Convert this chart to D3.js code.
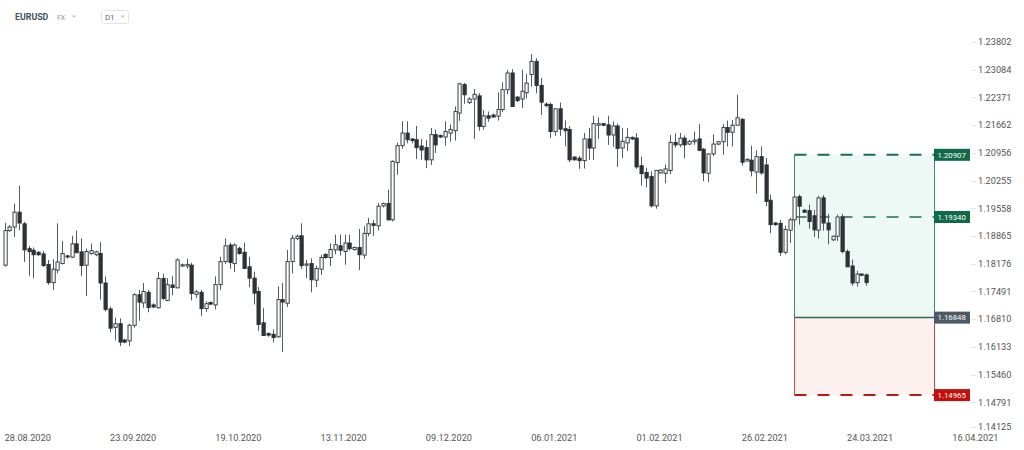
<!DOCTYPE html>
<html><head><meta charset="utf-8">
<script src="https://cdn.jsdelivr.net/npm/d3@7"></script>
<style>body{margin:0;background:#fff}svg{display:block;font-family:Roboto,"Noto Sans",sans-serif}</style>
</head><body><svg id="c" width="1024" height="450"></svg>
<script>
// ---- data (EURUSD, D1, with Sunday sessions) ----
const dates = ("28.08.2020 30.08.2020 31.08.2020 01.09.2020 02.09.2020 03.09.2020 04.09.2020 06.09.2020 07.09.2020 08.09.2020 " +
"09.09.2020 10.09.2020 11.09.2020 13.09.2020 14.09.2020 15.09.2020 16.09.2020 17.09.2020 18.09.2020 20.09.2020 " +
"21.09.2020 22.09.2020 23.09.2020 24.09.2020 25.09.2020 27.09.2020 28.09.2020 29.09.2020 30.09.2020 01.10.2020 " +
"02.10.2020 04.10.2020 05.10.2020 06.10.2020 07.10.2020 08.10.2020 09.10.2020 11.10.2020 12.10.2020 13.10.2020 " +
"14.10.2020 15.10.2020 16.10.2020 18.10.2020 19.10.2020 20.10.2020 21.10.2020 22.10.2020 23.10.2020 25.10.2020 " +
"26.10.2020 27.10.2020 28.10.2020 29.10.2020 30.10.2020 01.11.2020 02.11.2020 03.11.2020 04.11.2020 05.11.2020 " +
"06.11.2020 08.11.2020 09.11.2020 10.11.2020 11.11.2020 12.11.2020 13.11.2020 15.11.2020 16.11.2020 17.11.2020 " +
"18.11.2020 19.11.2020 20.11.2020 22.11.2020 23.11.2020 24.11.2020 25.11.2020 26.11.2020 27.11.2020 29.11.2020 " +
"30.11.2020 01.12.2020 02.12.2020 03.12.2020 04.12.2020 06.12.2020 07.12.2020 08.12.2020 09.12.2020 10.12.2020 " +
"11.12.2020 13.12.2020 14.12.2020 15.12.2020 16.12.2020 17.12.2020 18.12.2020 20.12.2020 21.12.2020 22.12.2020 " +
"23.12.2020 24.12.2020 27.12.2020 28.12.2020 29.12.2020 30.12.2020 31.12.2020 03.01.2021 04.01.2021 05.01.2021 " +
"06.01.2021 07.01.2021 08.01.2021 10.01.2021 11.01.2021 12.01.2021 13.01.2021 14.01.2021 15.01.2021 17.01.2021 " +
"18.01.2021 19.01.2021 20.01.2021 21.01.2021 22.01.2021 24.01.2021 25.01.2021 26.01.2021 27.01.2021 28.01.2021 " +
"29.01.2021 31.01.2021 01.02.2021 02.02.2021 03.02.2021 04.02.2021 05.02.2021 07.02.2021 08.02.2021 09.02.2021 " +
"10.02.2021 11.02.2021 12.02.2021 14.02.2021 15.02.2021 16.02.2021 17.02.2021 18.02.2021 19.02.2021 21.02.2021 " +
"22.02.2021 23.02.2021 24.02.2021 25.02.2021 26.02.2021 28.02.2021 01.03.2021 02.03.2021 03.03.2021 04.03.2021 " +
"05.03.2021 07.03.2021 08.03.2021 09.03.2021 10.03.2021 11.03.2021 12.03.2021 14.03.2021 15.03.2021 16.03.2021 " +
"17.03.2021 18.03.2021 19.03.2021 21.03.2021 22.03.2021 23.03.2021 24.03.2021 25.03.2021 26.03.2021 28.03.2021 " +
"29.03.2021").split(" ");

const open = [1.1814,1.1900,1.1909,1.1946,1.1917,1.1855,1.1851,1.1846,1.1842,1.1816,
1.1771,1.1802,1.1818,1.1837,1.1834,1.1867,1.1847,1.1814,1.1843,1.1840,
1.1843,1.1770,1.1706,1.1661,1.1670,1.1630,1.1628,1.1666,1.1741,1.1721,
1.1747,1.1716,1.1709,1.1781,1.1727,1.1765,1.1758,1.1812,1.1812,1.1814,
1.1742,1.1747,1.1707,1.1722,1.1716,1.1766,1.1823,1.1864,1.1818,1.1856,
1.1846,1.1810,1.1782,1.1749,1.1672,1.1646,1.1644,1.1638,1.1729,1.1720,
1.1823,1.1880,1.1887,1.1814,1.1818,1.1777,1.1804,1.1841,1.1833,1.1852,
1.1862,1.1848,1.1869,1.1853,1.1858,1.1839,1.1893,1.1917,1.1912,1.1962,
1.1968,1.1927,1.2071,1.2114,1.2146,1.2131,1.2129,1.2113,1.2109,1.2078,
1.2142,1.2140,1.2136,1.2146,1.2152,1.2197,1.2270,1.2224,1.2233,1.2241,
1.2163,1.2190,1.2192,1.2189,1.2206,1.2257,1.2300,1.2238,1.2233,1.2249,
1.2296,1.2330,1.2268,1.2220,1.2219,1.2150,1.2208,1.2157,1.2155,1.2085,
1.2082,1.2076,1.2131,1.2108,1.2166,1.2170,1.2167,1.2141,1.2164,1.2108,
1.2121,1.2135,1.2133,1.2063,1.2046,1.2036,1.1962,1.2045,1.2044,1.2051,
1.2122,1.2116,1.2133,1.2118,1.2124,1.2131,1.2105,1.2044,1.2093,1.2118,
1.2124,1.2160,1.2148,1.2166,1.2181,1.2075,1.2077,1.2047,1.2086,1.2065,
1.1976,1.1919,1.1918,1.1846,1.1901,1.1927,1.1985,1.1951,1.1950,1.1937,
1.1901,1.1982,1.1919,1.1877,1.1886,1.1934,1.1848,1.1812,1.1771,1.1792,
1.1790];
const high = [1.1919,1.1914,1.1968,1.2013,1.1922,1.1862,1.1858,1.1849,1.1849,1.1827,
1.1829,1.1918,1.1874,1.1840,1.1887,1.1900,1.1881,1.1855,1.1868,1.1850,
1.1871,1.1786,1.1712,1.1685,1.1683,1.1633,1.1670,1.1745,1.1753,1.1770,
1.1753,1.1720,1.1797,1.1793,1.1782,1.1787,1.1831,1.1818,1.1830,1.1820,
1.1753,1.1753,1.1725,1.1724,1.1786,1.1835,1.1881,1.1870,1.1868,1.1860,
1.1870,1.1835,1.1798,1.1760,1.1708,1.1648,1.1656,1.1762,1.1770,1.1852,
1.1889,1.1890,1.1918,1.1827,1.1831,1.1813,1.1840,1.1843,1.1868,1.1890,
1.1890,1.1890,1.1890,1.1860,1.1904,1.1911,1.1932,1.1926,1.1969,1.1970,
1.2003,1.2077,1.2122,1.2176,1.2176,1.2133,1.2164,1.2131,1.2129,1.2159,
1.2155,1.2142,1.2176,1.2168,1.2214,1.2275,1.2274,1.2238,1.2259,1.2248,
1.2205,1.2201,1.2196,1.2250,1.2276,1.2308,1.2310,1.2240,1.2309,1.2297,
1.2349,1.2338,1.2287,1.2224,1.2224,1.2209,1.2224,1.2178,1.2164,1.2087,
1.2088,1.2146,1.2159,1.2190,1.2186,1.2172,1.2190,1.2176,1.2170,1.2159,
1.2159,1.2137,1.2146,1.2086,1.2058,1.2049,1.2051,1.2054,1.2066,1.2141,
1.2145,1.2146,1.2140,1.2128,1.2150,1.2169,1.2108,1.2094,1.2143,1.2126,
1.2169,1.2178,1.2179,1.2244,1.2184,1.2082,1.2114,1.2102,1.2112,1.2083,
1.1990,1.1921,1.1927,1.1912,1.1932,1.1989,1.1990,1.1954,1.1965,1.1952,
1.1987,1.1989,1.1942,1.1888,1.1940,1.1942,1.1853,1.1828,1.1800,1.1794,
1.1793];
const low = [1.1810,1.1897,1.1884,1.1901,1.1822,1.1788,1.1782,1.1837,1.1810,1.1766,
1.1753,1.1794,1.1816,1.1830,1.1832,1.1844,1.1787,1.1738,1.1840,1.1836,
1.1729,1.1700,1.1649,1.1629,1.1615,1.1622,1.1615,1.1660,1.1677,1.1709,
1.1698,1.1708,1.1707,1.1728,1.1725,1.1740,1.1757,1.1810,1.1805,1.1727,
1.1733,1.1689,1.1699,1.1716,1.1705,1.1753,1.1817,1.1805,1.1797,1.1840,
1.1805,1.1760,1.1717,1.1652,1.1640,1.1638,1.1624,1.1636,1.1601,1.1711,
1.1794,1.1876,1.1805,1.1782,1.1747,1.1760,1.1790,1.1830,1.1812,1.1841,
1.1838,1.1815,1.1851,1.1850,1.1802,1.1830,1.1886,1.1887,1.1900,1.1958,
1.1925,1.1923,1.2040,1.2106,1.2120,1.2120,1.2080,1.2078,1.2057,1.2065,
1.2095,1.2133,1.2114,1.2124,1.2127,1.2177,1.2221,1.2220,1.2131,1.2152,
1.2155,1.2175,1.2185,1.2178,1.2200,1.2245,1.2213,1.2225,1.2210,1.2234,
1.2265,1.2248,1.2192,1.2212,1.2133,1.2139,1.2139,1.2112,1.2072,1.2076,
1.2055,1.2056,1.2078,1.2078,1.2131,1.2163,1.2116,1.2111,1.2060,1.2082,
1.2100,1.2128,1.2055,1.2013,1.2008,1.1958,1.1955,1.2043,1.2019,1.2042,
1.2109,1.2110,1.2082,1.2116,1.2116,1.2100,1.2024,1.2022,1.2087,1.2115,
1.2091,1.2112,1.2112,1.2165,1.2063,1.2073,1.2036,1.1993,1.2040,1.1961,
1.1894,1.1912,1.1837,1.1841,1.1869,1.1910,1.1915,1.1944,1.1905,1.1884,
1.1880,1.1900,1.1866,1.1874,1.1874,1.1843,1.1810,1.1763,1.1761,1.1788,
1.1763];
const close = [1.1900,1.1909,1.1946,1.1919,1.1852,1.1848,1.1840,1.1840,1.1813,1.1771,
1.1804,1.1822,1.1843,1.1835,1.1867,1.1845,1.1813,1.1848,1.1850,1.1847,
1.1770,1.1705,1.1659,1.1670,1.1625,1.1625,1.1666,1.1741,1.1723,1.1749,
1.1710,1.1711,1.1781,1.1732,1.1766,1.1759,1.1827,1.1815,1.1816,1.1744,
1.1748,1.1707,1.1719,1.1718,1.1766,1.1823,1.1862,1.1821,1.1864,1.1843,
1.1806,1.1782,1.1745,1.1668,1.1641,1.1642,1.1636,1.1729,1.1723,1.1823,
1.1881,1.1886,1.1813,1.1817,1.1778,1.1806,1.1833,1.1833,1.1853,1.1865,
1.1851,1.1869,1.1855,1.1858,1.1840,1.1893,1.1917,1.1913,1.1961,1.1968,
1.1927,1.2074,1.2114,1.2146,1.2129,1.2127,1.2109,1.2103,1.2078,1.2142,
1.2116,1.2136,1.2150,1.2155,1.2201,1.2272,1.2244,1.2233,1.2245,1.2163,
1.2190,1.2184,1.2187,1.2206,1.2257,1.2300,1.2214,1.2229,1.2253,1.2274,
1.2330,1.2268,1.2225,1.2216,1.2150,1.2208,1.2156,1.2152,1.2078,1.2078,
1.2076,1.2131,1.2108,1.2170,1.2170,1.2166,1.2141,1.2164,1.2107,1.2125,
1.2135,1.2131,1.2060,1.2043,1.2032,1.1962,1.2051,1.2052,1.2055,1.2122,
1.2116,1.2133,1.2116,1.2125,1.2128,1.2102,1.2045,1.2093,1.2118,1.2124,
1.2160,1.2148,1.2166,1.2185,1.2072,1.2079,1.2050,1.2086,1.2045,1.1973,
1.1915,1.1915,1.1846,1.1903,1.1927,1.1984,1.1961,1.1946,1.1923,1.1902,
1.1982,1.1919,1.1902,1.1886,1.1934,1.1848,1.1810,1.1770,1.1792,1.1789,
1.1771];

const yTicks = [1.23802,1.23084,1.22371,1.21662,1.20956,1.20255,1.19558,1.18865,1.18176,1.17491,1.16810,1.16133,1.15460,1.14791,1.14125];
const xTickLabels = ["28.08.2020","23.09.2020","19.10.2020","13.11.2020","09.12.2020","06.01.2021","01.02.2021","26.02.2021","24.03.2021","16.04.2021"];
const xTickIndex = [0,22,44,66,88,110,132,154,176,198];

// position tool (long): levels and bar span
const levelValues = [1.20907, 1.19340, 1.16848, 1.14965];
const levelColors = ["#0f6b47", "#0f6b47", "#4c5a66", "#c4100c"];
const zoneSpan = [165, 194.2];

// ---- chart ----
const svg = d3.select("#c");
const x = d3.scaleLinear().domain([0, 198]).range([4.7, 4.7 + 198 * 4.786]);
const y = d3.scaleLog().domain([1.23802, 1.14791]).range([42, 402.3]);

const data = dates.map((d, i) => ({d, i, o: open[i], h: high[i], l: low[i], c: close[i]}));

// header
const hdr = svg.append("g");
hdr.append("text").attr("x", 15).attr("y", 19.5).attr("font-size", 8.8).attr("font-weight", 700).attr("fill", "#44505b").text("EURUSD");
hdr.append("text").attr("x", 57).attr("y", 19.5).attr("font-size", 7).attr("fill", "#8795a1").text("FX");
hdr.append("path").attr("d", "M71.5,15.5 L76,15.5 L73.75,18 Z").attr("fill", "#c4c9ce");
hdr.append("rect").attr("x", 101.5).attr("y", 10.5).attr("width", 27).attr("height", 13).attr("rx", 2).attr("fill", "#fff").attr("stroke", "#e3e6e9");
hdr.append("text").attr("x", 105).attr("y", 20).attr("font-size", 7.8).attr("fill", "#5b6670").text("D1");
hdr.append("path").attr("d", "M120.5,15.5 L125,15.5 L122.75,18 Z").attr("fill", "#c4c9ce");

// y axis labels
const yAx = svg.append("g");
yTicks.forEach(v => {
  const yy = Math.min(y(v), 427);
  yAx.append("line").attr("x1", 971).attr("x2", 976).attr("y1", Math.round(yy) + 0.5).attr("y2", Math.round(yy) + 0.5).attr("stroke", "#e4e4e4");
  yAx.append("text").attr("x", 978).attr("y", yy).attr("dy", "0.35em").attr("font-size", 9.2).attr("fill", "#555").text(d3.format(".5f")(v));
});

// x axis labels
const xAx = svg.append("g");
xTickIndex.forEach((idx, k) => {
  xAx.append("text").attr("x", x(idx)).attr("y", 440.5).attr("font-size", 9.2).attr("fill", "#555").text(xTickLabels[k]);
});

// position zone
const zx0 = Math.round(x(zoneSpan[0])) + 0.5, zx1 = Math.round(x(zoneSpan[1])) + 0.5;
const [tp, mid, entry, stop] = levelValues;
const zg = svg.append("g");
zg.append("rect").attr("x", zx0).attr("y", y(tp)).attr("width", zx1 - zx0).attr("height", y(entry) - y(tp)).attr("fill", "#eef8f4");
zg.append("rect").attr("x", zx0).attr("y", y(entry)).attr("width", zx1 - zx0).attr("height", y(stop) - y(entry)).attr("fill", "#fdf1f0");
zg.append("line").attr("x1", zx0).attr("x2", zx0).attr("y1", y(tp)).attr("y2", y(entry)).attr("stroke", "#3e8d69");
zg.append("line").attr("x1", zx1).attr("x2", zx1).attr("y1", y(tp)).attr("y2", y(entry)).attr("stroke", "#3e8d69");
zg.append("line").attr("x1", zx0).attr("x2", zx0).attr("y1", y(entry)).attr("y2", y(stop)).attr("stroke", "#cc4a45");
zg.append("line").attr("x1", zx1).attr("x2", zx1).attr("y1", y(entry)).attr("y2", y(stop)).attr("stroke", "#cc4a45");
zg.append("line").attr("x1", zx0).attr("x2", zx1).attr("y1", y(tp)).attr("y2", y(tp)).attr("stroke", "#17704c").attr("stroke-width", 2).attr("stroke-dasharray", "12,11");
zg.append("line").attr("x1", zx0).attr("x2", zx1).attr("y1", y(mid)).attr("y2", y(mid)).attr("stroke", "#17704c").attr("stroke-width", 1.6).attr("stroke-dasharray", "12,11");
zg.append("line").attr("x1", zx0).attr("x2", zx1).attr("y1", y(entry)).attr("y2", y(entry)).attr("stroke", "#2f6a52").attr("stroke-width", 1.5);
zg.append("line").attr("x1", zx0).attr("x2", zx1).attr("y1", y(stop)).attr("y2", y(stop)).attr("stroke", "#b81a16").attr("stroke-width", 2).attr("stroke-dasharray", "12,11");

// candles
const cg = svg.append("g");
cg.selectAll("line.w").data(data).join("line").attr("class", "w")
  .attr("x1", d => Math.round(x(d.i)) + 0.5).attr("x2", d => Math.round(x(d.i)) + 0.5)
  .attr("y1", d => y(d.h)).attr("y2", d => y(d.l))
  .attr("stroke", "#545b61").attr("stroke-width", 1);
cg.selectAll("rect.b").data(data).join("rect").attr("class", "b")
  .attr("x", d => Math.round(x(d.i)) - 1)
  .attr("y", d => y(Math.max(d.o, d.c)))
  .attr("width", 3.2)
  .attr("height", d => Math.max(1, y(Math.min(d.o, d.c)) - y(Math.max(d.o, d.c))))
  .attr("fill", d => d.c >= d.o ? "#ffffff" : "#2c3338")
  .attr("stroke", d => d.c >= d.o ? "#3a4147" : "#2c3338")
  .attr("stroke-width", 1);

// level labels on the right of the zone
const lg = svg.append("g");
levelValues.forEach((v, k) => {
  const yy = y(v);
  lg.append("rect").attr("x", 934).attr("y", yy - 6).attr("width", 36).attr("height", 12).attr("fill", levelColors[k]);
  lg.append("text").attr("x", 937.5).attr("y", yy).attr("dy", "0.36em").attr("font-size", 7.8).attr("fill", "#fff").text(d3.format(".5f")(v));
});
</script></body></html>
